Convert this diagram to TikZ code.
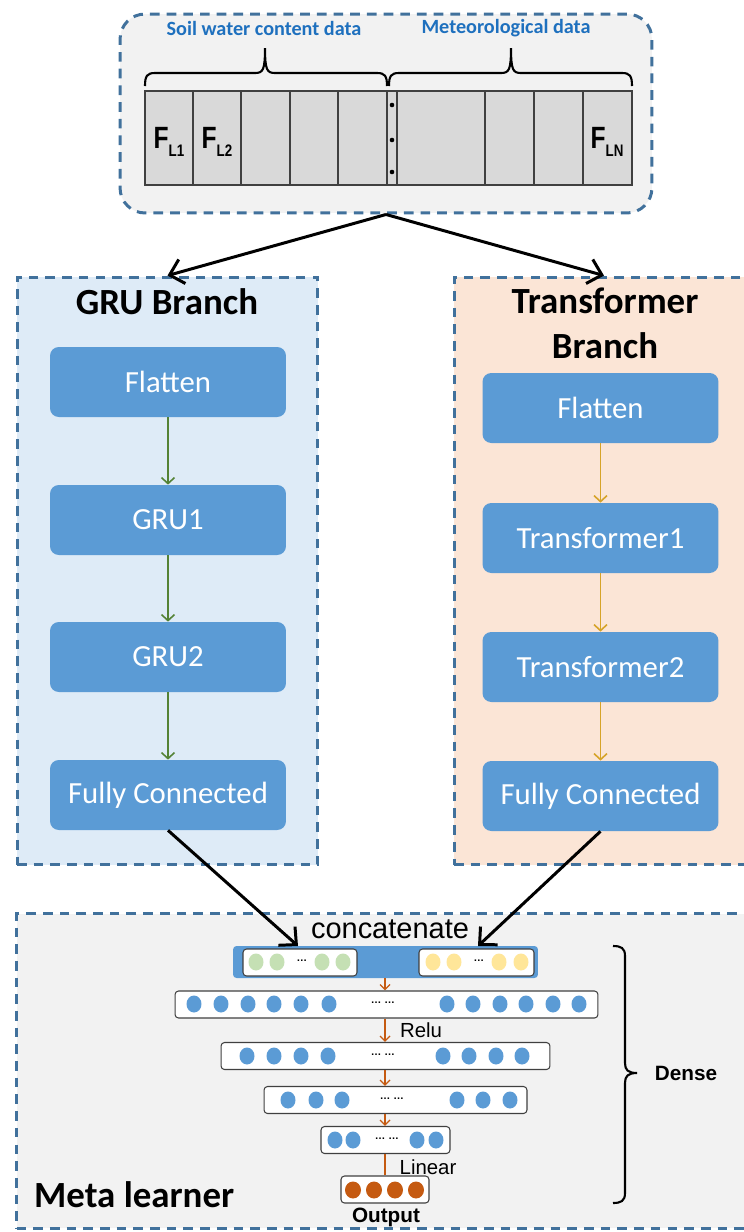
\documentclass[tikz,border=0pt]{standalone}
\usepackage{fontspec}
\setmainfont{Carlito}
\newfontfamily\arialf{Liberation Sans}
\newfontfamily\narrowf[FakeStretch=0.8]{Liberation Sans}
\usetikzlibrary{arrows.meta,positioning,calc,shapes.geometric}
\definecolor{BoxBlue}{RGB}{91,155,213}
\definecolor{DashBlue}{RGB}{65,113,156}
\definecolor{GruFill}{RGB}{222,235,247}
\definecolor{TrfFill}{RGB}{251,229,214}
\definecolor{PanelGray}{RGB}{242,242,242}
\definecolor{CellGray}{RGB}{217,217,217}
\definecolor{LabelBlue}{RGB}{30,112,190}
\definecolor{GruGreen}{RGB}{84,130,53}
\definecolor{TrfGold}{RGB}{214,163,40}
\definecolor{DenseOrange}{RGB}{197,90,17}
\definecolor{DotGreen}{RGB}{197,224,180}
\definecolor{DotYellow}{RGB}{255,230,153}
\definecolor{EdgeGray}{RGB}{64,64,64}
\newcommand{\featlbl}[1]{F\raisebox{-0.45ex}{\fontsize{9.5}{10}\selectfont #1}}

\begin{document}
\begin{tikzpicture}[
      x=0.02cm,y=-0.02cm,
      panel/.style={draw=DashBlue,dash pattern=on 5.5pt off 4pt,line width=1.7pt,inner sep=0pt},
      blk/.style={fill=BoxBlue,rounded corners=5pt,minimum width=4.72cm,minimum height=1.4cm,
                  text=white,font=\fontsize{17.5}{20}\selectfont},
      ttl/.style={font=\fontsize{21}{25.5}\selectfont\bfseries,align=center},
      toplbl/.style={font=\fontsize{11.5}{13}\selectfont\bfseries,text=LabelBlue},
      feat/.style={font=\narrowf\bfseries\fontsize{17.5}{20}\selectfont},
      cell/.style={fill=CellGray,draw=EdgeGray,line width=0.6pt},
      brc/.style={line width=1.2pt},
      lyr/.style={draw=EdgeGray,fill=white,rounded corners=2pt,line width=0.6pt,
                  minimum height=0.54cm,inner sep=0pt},
      unit/.style={ellipse,minimum width=0.3cm,minimum height=0.34cm,inner sep=0pt,fill=BoxBlue},
      ell/.style={font=\arialf\bfseries\fontsize{6}{7}\selectfont,inner sep=0pt},
      lbl/.style={font=\arialf\fontsize{11.6}{13}\selectfont},
      blbl/.style={font=\arialf\bfseries\fontsize{11.8}{13}\selectfont},
      ar/.style={-{Straight Barb[length=2.6mm,width=5mm]},line width=1.7pt},
      gar/.style={-{Straight Barb[length=1.2mm,width=2.6mm]},line width=0.9pt,color=GruGreen},
      tar/.style={-{Straight Barb[length=1.2mm,width=2.6mm]},line width=0.9pt,color=TrfGold},
      oar/.style={-{Straight Barb[length=1mm,width=2mm]},line width=0.8pt,color=DenseOrange}
    ]
    \useasboundingbox (0,0) rectangle (744,1232);

    % Panels
    \node[panel,fill=PanelGray,rounded corners=0.5cm,minimum width=10.64cm,minimum height=3.98cm] (inbox) at (386,113.5) {};
    \node[panel,fill=GruFill,minimum width=6.02cm,minimum height=11.76cm] (gru) at (167.5,571) {};
    \node[panel,fill=TrfFill,minimum width=6.0cm,minimum height=11.76cm] (trf) at (604,571) {};
    \node[panel,fill=PanelGray,minimum width=14.74cm,minimum height=6.3cm] (meta) at (385,1071) {};

    % Input features
    \node[toplbl] (swc) at (264,28) {Soil water content data};
    \node[toplbl] (met) at (506,28) {Meteorological data};
    \foreach \a/\m/\b in {145/265/387, 389/511/632}
      \draw[brc] (\a,86) .. controls (\a,76) and (\a+2,73) .. (\a+10,73) -- (\m-10,73)
        .. controls (\m-2,73) and (\m,70) .. (\m,48) .. controls (\m,70) and (\m+2,73) .. (\m+10,73)
        -- (\b-10,73) .. controls (\b-2,73) and (\b,76) .. (\b,86);
    \foreach \a/\b in {145/193,193/241,241/290,290/338,338/387,387/397,397/485,485/534,534/583,583/632}
      \draw[cell] (\a,91) rectangle (\b,185);
    \foreach \y in {105,140,172}
      \fill (392,\y) circle (1.3pt);
    \node[feat] (f1) at (169,142) {\featlbl{L1}};
    \node[feat] (f2) at (217,142) {\featlbl{L2}};
    \node[feat] (fn) at (607,142) {\featlbl{LN}};

    \draw[ar] (inbox.south) -- (gru.north);
    \draw[ar] (inbox.south) -- (trf.north);

    % GRU branch
    \node[ttl] (grut) at (167,302) {GRU Branch};
    \node[blk] (g1) at (168,382) {Flatten};
    \node[blk] (g2) at (168,520) {GRU1};
    \node[blk] (g3) at (168,657) {GRU2};
    \node[blk] (g4) at (168,795) {Fully Connected};
    \draw[gar] (g1) -- (g2);
    \draw[gar] (g2) -- (g3);
    \draw[gar] (g3) -- (g4);

    % Transformer branch
    \node[ttl] (trft) at (605,323) {Transformer\\Branch};
    \node[blk] (t1) at (600.5,408) {Flatten};
    \node[blk] (t2) at (600.5,538) {Transformer1};
    \node[blk] (t3) at (600.5,667) {Transformer2};
    \node[blk] (t4) at (600.5,796) {Fully Connected};
    \draw[tar] (t1) -- (t2);
    \draw[tar] (t2) -- (t3);
    \draw[tar] (t3) -- (t4);

    % Meta learner
    \node[ttl,anchor=west] (metat) at (28,1195) {Meta learner};
    \node[font=\arialf\fontsize{16.5}{18}\selectfont] (cat) at (390,929) {concatenate};
    \node[fill=BoxBlue,rounded corners=2pt,minimum width=6.1cm,minimum height=0.64cm,inner sep=0pt] (cbar) at (385.5,962) {};
    \node[lyr,minimum width=2.28cm] (cg) at (300,962.5) {};
    \node[lyr,minimum width=2.3cm] (cy) at (476.5,962.5) {};
    \foreach \x [count=\i] in {256,277,322,343}
      \node[unit,fill=DotGreen] (ug\i) at (\x,962) {};
    \foreach \x [count=\i] in {433,454,499,521}
      \node[unit,fill=DotYellow] (uy\i) at (\x,962) {};
    \node[ell] (eg) at (302,961) {\ldots};
    \node[ell] (ey) at (479,961) {\ldots};

    \node[lyr,minimum width=8.46cm] (l1) at (386.5,1004.5) {};
    \node[lyr,minimum width=6.58cm] (l2) at (385.5,1056) {};
    \node[lyr,minimum width=5.26cm] (l3) at (395.5,1100) {};
    \node[lyr,minimum width=2.58cm] (l4) at (385.5,1140) {};
    \node[lyr,minimum width=1.76cm] (out) at (385,1189.5) {};
    \foreach \x [count=\i] in {194,221,248,274,301,329,447,473,500,526,553,579}
      \node[unit] (ua\i) at (\x,1004) {};
    \foreach \x [count=\i] in {247,274,301,328,443,469,496,522}
      \node[unit] (ub\i) at (\x,1056) {};
    \foreach \x [count=\i] in {288,316,342,457,483,510}
      \node[unit] (uc\i) at (\x,1100) {};
    \foreach \x [count=\i] in {335,353,417,436}
      \node[unit] (ud\i) at (\x,1140) {};
    \foreach \x [count=\i] in {353,374,395,416}
      \node[unit,fill=DenseOrange,minimum width=0.32cm,minimum height=0.34cm] (uo\i) at (\x,1190) {};
    \node[ell] (e1) at (383,1003) {\ldots\ \ldots};
    \node[ell] (e2) at (383,1055) {\ldots\ \ldots};
    \node[ell] (e3) at (392,1099) {\ldots\ \ldots};
    \node[ell] (e4) at (387,1139) {\ldots\ \ldots};

    % Dense connectors
    \coordinate (ax) at (385,0);
    \draw[oar] (cbar.south -| ax) -- (l1.north -| ax);
    \draw[oar] (l1.south -| ax) -- (l2.north -| ax);
    \draw[oar] (l2.south -| ax) -- (l3.north -| ax);
    \draw[oar] (l3.south -| ax) -- (l4.north -| ax);
    \draw[line width=0.8pt,DenseOrange] (l4.south -| ax) -- (out.north -| ax);
    \node[lbl] (relu) at (421,1030) {Relu};
    \node[lbl] (lin) at (428,1167) {Linear};
    \node[blbl] (outl) at (386,1217) {Output};

    \draw[brc] (613,946) .. controls (621,946) and (625,948) .. (625,956) -- (625,1063)
      .. controls (625,1070) and (628,1073) .. (637,1073) .. controls (628,1073) and (625,1076) .. (625,1083)
      -- (625,1193) .. controls (625,1201) and (621,1203) .. (613,1203);
    \node[blbl] (dense) at (686,1073) {Dense};

    % Branch outputs into concatenation
    \coordinate (cin1) at (298,946);
    \coordinate (cin2) at (478,946);
    \draw[ar] (g4.south) -- (cin1);
    \draw[ar] (t4.south) -- (cin2);
  \end{tikzpicture}
\end{document}
